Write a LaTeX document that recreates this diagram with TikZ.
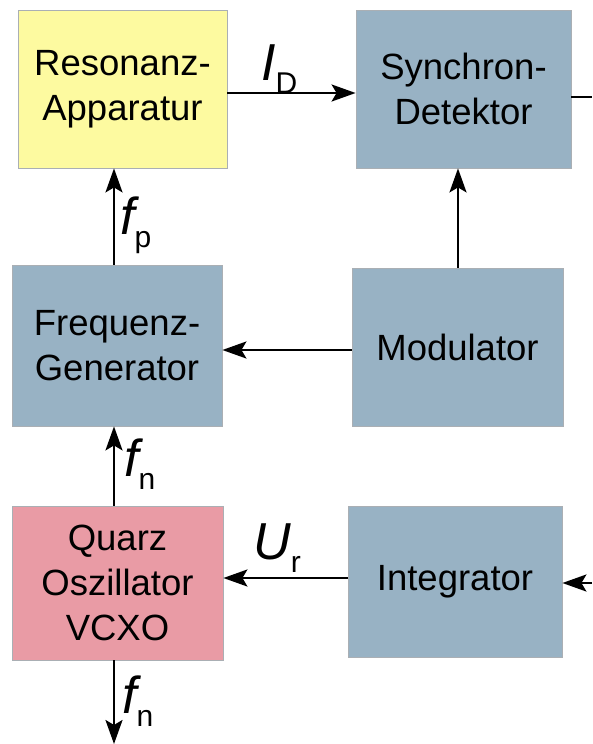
\documentclass[tikz,border=0pt]{standalone}
\usepackage{fontspec}
\setmainfont{Liberation Sans}
\usetikzlibrary{arrows.meta}
\definecolor{cyel}{RGB}{253,250,160}
\definecolor{cblue}{RGB}{152,178,196}
\definecolor{cpink}{RGB}{233,155,165}
\definecolor{cedge}{RGB}{170,175,180}
\tikzset{
  blk/.style={draw=cedge, line width=0.8pt, inner sep=0pt, align=center,
    font=\fontsize{36.5}{45}\selectfont},
  conn/.style={line width=2.4pt, -{Stealth[length=24pt,width=17pt,inset=5pt]}},
  plain/.style={line width=2.4pt},
  lbl/.style={inner sep=0pt, font=\fontsize{52}{52}\selectfont\itshape},
}
\newcommand{\subsc}[1]{\raisebox{-13pt}{\upshape\fontsize{30}{30}\selectfont #1}}
\begin{document}
\begin{tikzpicture}[x=1pt,y=-1pt]
\useasboundingbox (0,0) rectangle (592,744);
% boxes
\node[blk, fill=cyel, minimum width=209pt, minimum height=158pt] (res) at (122.5,89) {Resonanz-\\Apparatur};
\node[blk, fill=cblue, minimum width=215pt, minimum height=158pt] (syn) at (463.5,89) {Synchron-\\Detektor};
\node[blk, fill=cblue, minimum width=210pt, minimum height=161pt] (gen) at (117,345.5) {Frequenz-\\Generator};
\node[blk, fill=cblue, minimum width=211pt, minimum height=158pt] (mod) at (457.5,347) {Modulator};
\node[blk, fill=cpink, minimum width=211pt, minimum height=154pt] (vcxo) at (117.5,583) {Quarz\\Oszillator\\VCXO};
\node[blk, fill=cblue, minimum width=214pt, minimum height=151pt] (int) at (455,581.5) {Integrator};
% free ends
\coordinate (synout) at (592,97);
\coordinate (intin) at (592,583);
\coordinate (fout) at (114,744);
% connectors
\draw[conn] (res.east |- 0,93) -- (syn.west |- 0,93);
\draw[plain] (syn.east |- synout) -- (synout);
\draw[conn] (gen.north -| 114,0) -- (res.south -| 114,0);
\draw[conn] (mod.north -| 458,0) -- (syn.south -| 458,0);
\draw[conn] (mod.west |- 0,350) -- (gen.east |- 0,350);
\draw[conn] (vcxo.north -| 114,0) -- (gen.south -| 114,0);
\draw[conn] (int.west |- 0,578) -- (vcxo.east |- 0,578);
\draw[conn] (intin) -- (int.east |- intin);
\draw[conn] (vcxo.south -| fout) -- (fout);
% labels
\node[lbl, anchor=base west] (lid) at (261,80) {I\subsc{D}};
\node[lbl, anchor=base west] (lfp) at (120,234) {f\subsc{p}};
\node[lbl, anchor=base west] (lfn1) at (124,476) {f\subsc{n}};
\node[lbl, anchor=base west] (lur) at (253,559) {U\subsc{r}};
\node[lbl, anchor=base west] (lfn2) at (122,713) {f\subsc{n}};
\end{tikzpicture}
\end{document}
